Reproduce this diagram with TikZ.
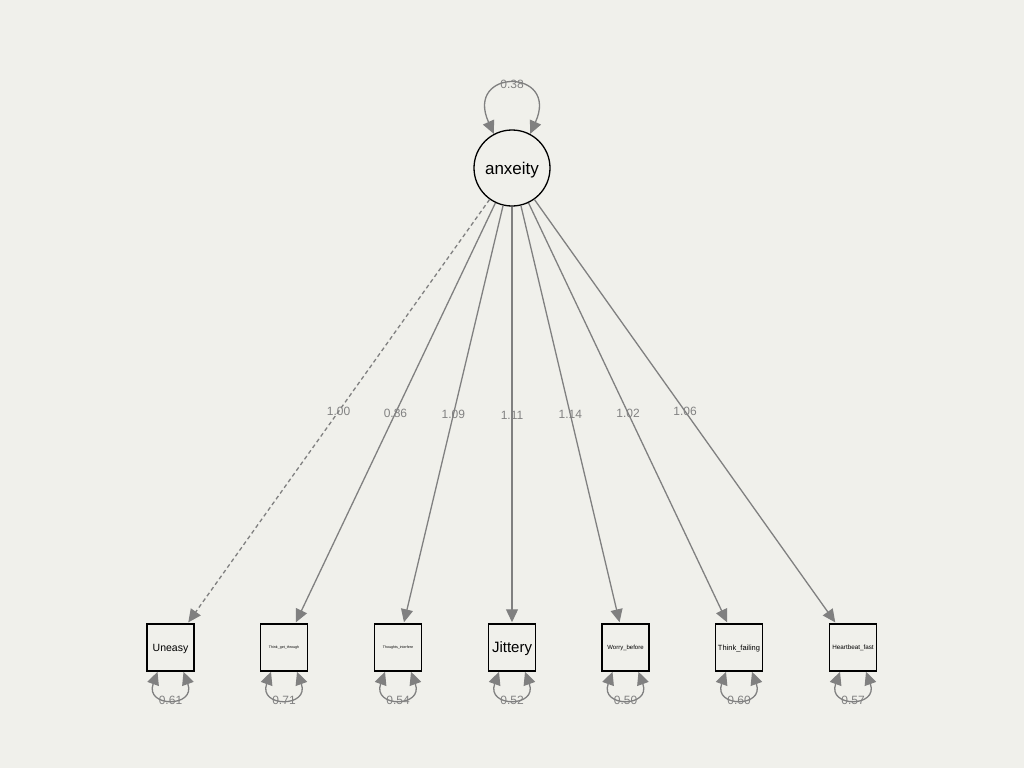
\documentclass[tikz,border=0pt]{standalone}
\usepackage{fontspec}
\setmainfont{Liberation Sans}
\usetikzlibrary{arrows.meta,calc}
\definecolor{bg}{RGB}{240,240,235}
\definecolor{edgegray}{RGB}{128,128,128}
\definecolor{labgray}{RGB}{130,130,130}
\tikzset{
  manifest/.style={draw=black,line width=1.5pt,minimum width=47pt,minimum height=47pt,inner sep=0pt,text depth=0pt},
  latent/.style={circle,draw=black,line width=1.3pt,minimum size=76pt,inner sep=0pt,text depth=0pt,font=\fontsize{17}{20}\selectfont},
  load/.style={draw=edgegray,line width=1.3pt,shorten >=1pt,-{Triangle[length=13pt,width=12pt,fill=edgegray]}},
  resid/.style={draw=edgegray,line width=1.3pt,{Triangle[length=13pt,width=12pt,fill=edgegray]}-{Triangle[length=13pt,width=12pt,fill=edgegray]}},
  elab/.style={text=labgray,font=\fontsize{12}{14}\selectfont,inner sep=0pt},
}
\begin{document}
\begin{tikzpicture}[x=1pt,y=1pt]
\fill[bg] (0,0) rectangle (1024,-768);
\useasboundingbox (0,0) rectangle (1024,-768);
\node[latent] (anx) at (512,-168) {anxeity};
\node[manifest,font=\fontsize{10.5}{12}\selectfont] (u) at (170.5,-647.5) {Uneasy};
\node[manifest,font=\fontsize{3.6}{4}\selectfont] (tgt) at (284,-647.5) {Think\_get\_through};
\node[manifest,font=\fontsize{3.6}{4}\selectfont] (ti) at (398,-647.5) {Thoughts\_interfere};
\node[manifest,font=\fontsize{15}{17}\selectfont] (j) at (512,-647.5) {Jittery};
\node[manifest,font=\fontsize{6}{7}\selectfont] (wb) at (625.5,-647.5) {Worry\_before};
\node[manifest,font=\fontsize{7.5}{9}\selectfont] (tf) at (739,-647.5) {Think\_failing};
\node[manifest,font=\fontsize{6.3}{7}\selectfont] (hf) at (853,-647.5) {Heartbeat\_fast};
% loadings
\draw[load,dash pattern=on 4pt off 3pt] (anx) -- (u) node[elab,pos=0.5] {1.00};
\draw[load] (anx) -- (tgt) node[elab,pos=0.5] {0.86};
\draw[load] (anx) -- (ti) node[elab,pos=0.5] {1.09};
\draw[load] (anx) -- (j) node[elab,pos=0.5] {1.11};
\draw[load] (anx) -- (wb) node[elab,pos=0.5] {1.14};
\draw[load] (anx) -- (tf) node[elab,pos=0.5] {1.02};
\draw[load] (anx) -- (hf) node[elab,pos=0.5] {1.06};
% latent variance
\draw[resid] (anx.62) .. controls +(30,66) and +(-30,66) .. (anx.118) node[elab,pos=0.5] {0.38};
% residual variances
\foreach \n/\v in {u/0.61,tgt/0.71,ti/0.54,j/0.52,wb/0.50,tf/0.60,hf/0.57}{
  \draw[resid] ($(\n.south)+(-13,0)$) .. controls +(-13,-36) and +(13,-36) .. ($(\n.south)+(13,0)$) node[elab,pos=0.5,yshift=-2pt] {\v};
}
\end{tikzpicture}
\end{document}
